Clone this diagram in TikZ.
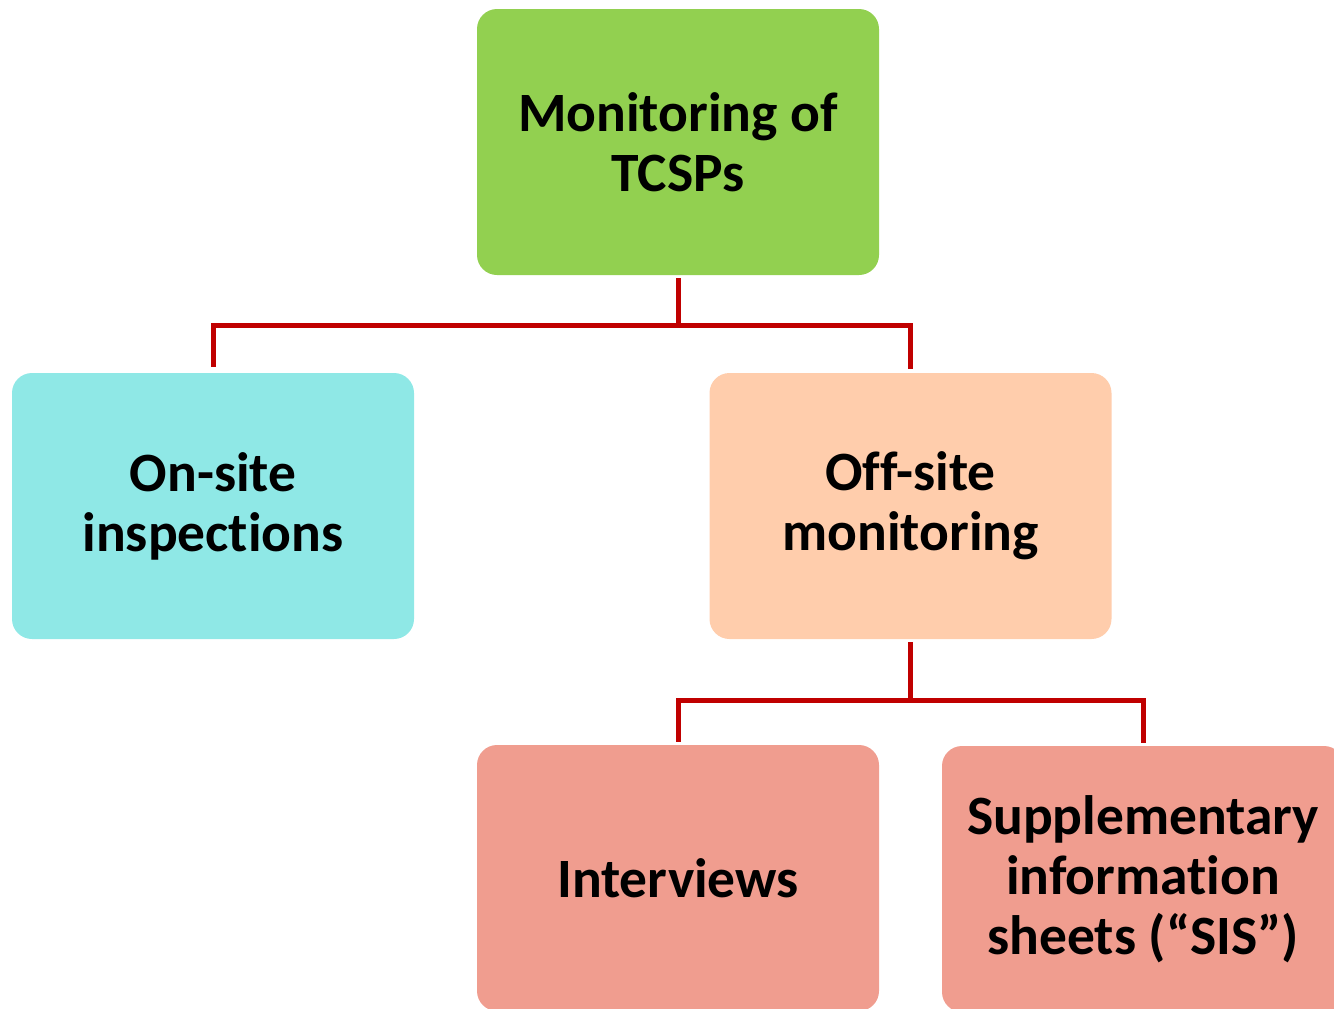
\documentclass[tikz,border=0pt]{standalone}
\usepackage{fontspec}
\setmainfont{Carlito}[Ligatures={NoCommon}]
\definecolor{cgreen}{RGB}{146,208,80}
\definecolor{ccyan}{RGB}{143,232,230}
\definecolor{cpeach}{RGB}{255,205,172}
\definecolor{csalmon}{RGB}{240,157,143}
\definecolor{cred}{RGB}{192,0,0}
\tikzset{
  box/.style={rectangle, rounded corners=20pt, minimum width=402pt, minimum height=266pt,
    inner sep=0pt, align=center, font=\fontsize{55.5}{60}\selectfont\bfseries},
  conn/.style={draw=cred, line width=5pt}
}
\begin{document}
\begin{tikzpicture}[x=1pt,y=-1pt]
\useasboundingbox (0,0) rectangle (1334,1009);
\node[box, fill=cgreen] (top) at (678,142) {Monitoring of\\TCSPs};
\node[box, fill=ccyan] (left) at (213,506) {On-site\\inspections};
\node[box, fill=cpeach] (off) at (910.5,506) {Off-site\\monitoring};
\node[box, fill=csalmon] (int) at (678,878) {Interviews};
\node[box, fill=csalmon] (sis) at (1143,879) {Supplementary\\information\\sheets (“SIS”)};
\draw[conn, shorten <=3pt, shorten >=6pt] (top.south) -- ++(0,50) -| (left.north);
\draw[conn, shorten <=3pt, shorten >=4pt] (top.south) -- ++(0,50) -| (off.north);
\draw[conn, shorten <=3pt, shorten >=3pt] (off.south) -- ++(0,61) -| (int.north);
\draw[conn, shorten <=3pt, shorten >=3pt] (off.south) -- ++(0,61) -| (sis.north);
\end{tikzpicture}
\end{document}
